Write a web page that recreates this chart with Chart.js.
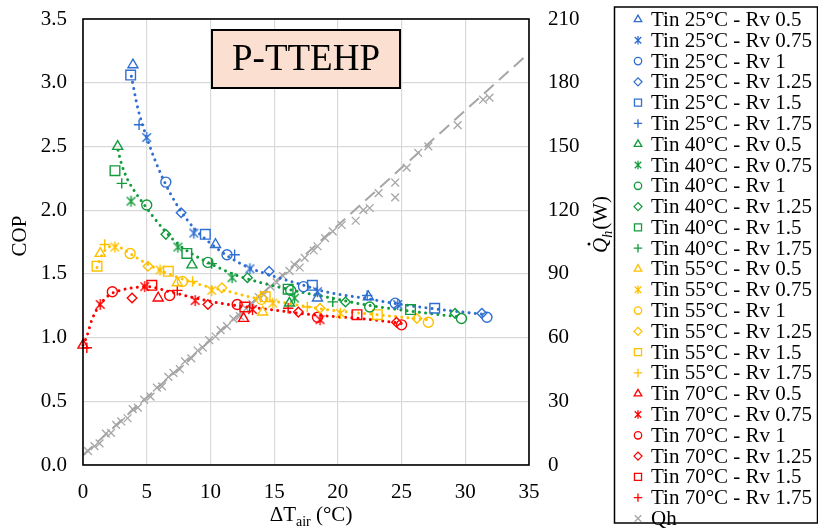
<!DOCTYPE html>
<html>
<head>
<meta charset="utf-8">
<script src="https://cdn.jsdelivr.net/npm/chart.js@4.4.0/dist/chart.umd.min.js"></script>
<style>
html,body{margin:0;padding:0;background:#fff;}
#wrap{width:818px;height:532px;position:relative;}
canvas{display:block;}
</style>
</head>
<body>
<div id="wrap"><canvas id="c" width="818" height="532"></canvas></div>
<script>
// ---------- categories ----------
const TINS = ['Tin 25°C', 'Tin 40°C', 'Tin 55°C', 'Tin 70°C'];
const RVS = ['Rv 0.5', 'Rv 0.75', 'Rv 1', 'Rv 1.25', 'Rv 1.5', 'Rv 1.75'];
const X_TICKS = [0, 5, 10, 15, 20, 25, 30, 35];
const COP_TICKS = [0, 0.5, 1, 1.5, 2, 2.5, 3, 3.5];
const QH_TICKS = [0, 30, 60, 90, 120, 150, 180, 210];

// ---------- data [ΔTair, COP] ----------
// Tin 25°C
const t25_rv050 = [[3.92,3.14],[10.4,1.73],[18.4,1.31],[22.4,1.32]];
const t25_rv075 = [[5.0,2.57],[8.7,1.82],[13.1,1.54],[18.4,1.36],[24.7,1.26]];
const t25_rv100 = [[6.5,2.22],[11.3,1.65],[17.3,1.40],[24.5,1.27],[31.7,1.16]];
const t25_rv125 = [[7.7,1.98],[14.6,1.52],[31.3,1.19]];
const t25_rv150 = [[3.74,3.06],[9.6,1.81],[18.0,1.41],[27.6,1.23]];
const t25_rv175 = [[4.4,2.67],[11.9,1.65],[22.3,1.33]];
// Tin 40°C
const t40_rv050 = [[2.72,2.50],[8.55,1.57],[16.2,1.27]];
const t40_rv075 = [[3.77,2.07],[7.45,1.71],[11.7,1.47],[16.6,1.31]];
const t40_rv100 = [[5.0,2.04],[9.8,1.59],[16.3,1.37],[22.5,1.24],[29.7,1.15]];
const t40_rv125 = [[6.5,1.81],[12.9,1.47],[20.6,1.28],[29.2,1.19]];
const t40_rv150 = [[2.51,2.31],[8.15,1.66],[16.1,1.38],[25.7,1.22]];
const t40_rv175 = [[3.04,2.21],[10.1,1.58],[19.6,1.28]];
// Tin 55°C
const t55_rv050 = [[1.35,1.66],[7.4,1.43],[14.1,1.20]];
const t55_rv075 = [[2.5,1.71],[6.05,1.53],[10.1,1.37],[14.9,1.27],[20.2,1.19]];
const t55_rv100 = [[3.7,1.66],[7.8,1.44],[14.0,1.30],[27.1,1.12]];
const t55_rv125 = [[5.1,1.56],[10.9,1.39],[18.6,1.23],[26.2,1.15]];
const t55_rv150 = [[1.1,1.56],[6.7,1.52],[14.3,1.32],[23.1,1.18]];
const t55_rv175 = [[1.7,1.73],[8.6,1.44],[17.6,1.24]];
// Tin 70°C
const t70_rv050 = [[0.0,0.94],[5.9,1.31],[12.6,1.15]];
const t70_rv075 = [[1.35,1.26],[4.85,1.40],[8.8,1.29],[13.3,1.22],[18.6,1.14]];
const t70_rv100 = [[2.3,1.36],[6.8,1.33],[12.1,1.26],[18.4,1.16],[25.0,1.10]];
const t70_rv125 = [[3.85,1.31],[9.8,1.26],[16.9,1.20],[24.6,1.12]];
const t70_rv150 = [[5.4,1.41],[12.7,1.24],[21.5,1.18]];
const t70_rv175 = [[0.3,0.92],[7.4,1.37],[16.1,1.23]];

// trend curves
const trend25 = [[3.8,3.05],[4.3,2.8],[5.0,2.57],[5.7,2.38],[6.5,2.2],[7.5,2.02],[8.7,1.86],[10,1.74],[11.5,1.63],[13,1.55],[15,1.48],[17,1.42],[19,1.36],[22,1.31],[25,1.26],[28,1.22],[31.7,1.18]];
const trend40 = [[2.75,2.47],[3.0,2.37],[3.5,2.24],[4.1,2.14],[4.6,2.07],[5.5,1.95],[6.4,1.84],[7.5,1.73],[8.5,1.66],[10,1.58],[12,1.49],[14,1.43],[16.5,1.37],[19,1.32],[22,1.26],[25.5,1.21],[29.7,1.16]];
const trend55 = [[1.1,1.55],[1.5,1.65],[2.0,1.71],[2.6,1.72],[3.2,1.69],[4.0,1.64],[5.0,1.58],[6.0,1.53],[7.5,1.47],[9,1.42],[11.5,1.36],[13.5,1.31],[16,1.27],[19,1.22],[22,1.19],[25,1.16],[27.1,1.14]];
const trend70 = [[0,0.94],[0.3,1.01],[0.7,1.14],[1.2,1.24],[2.0,1.33],[2.9,1.37],[3.9,1.39],[5.0,1.40],[6.8,1.36],[8.4,1.32],[10.2,1.28],[12.1,1.25],[14.7,1.22],[17,1.19],[19.1,1.17],[21.7,1.15],[24.3,1.12],[25,1.11]];

// heating capacity Qh [ΔTair, W]
const qh_x = [0.4,0.9,1.3,1.8,2.2,2.6,3.0,3.5,3.9,4.3,4.8,5.3,5.8,6.2,6.7,7.1,7.6,8.0,8.5,9.0,9.4,9.9,10.4,10.8,11.3,11.8,12.3,12.8,13.3,13.8,14.2,14.7,15.2,15.7,16.2,16.6,17.0,17.4,18.1,18.4,19.0,19.6,20.3,21.4,22.0,22.5,23.2,24.5,24.5,25.4,26.3,27.1,29.4,31.4,31.9];
const qh_y = [6.5,8.9,10.2,14.8,15.1,18.9,20.5,22.0,26.3,27.0,30.8,32.2,36.4,37.0,41.5,43.4,45.1,48.8,50.2,53.9,55.3,58.8,60.5,63.5,65.4,68.8,70.1,73.6,75.9,79.0,80.2,84.1,86.0,89.0,91.4,94.3,93.0,97.5,101,103,106.8,110,113,115,120,121,128,133,126,140,147,150,160,172,173];
const qh_trend = [[0,4.7],[35,194]];

// ---------- styles ----------
const COLORS = ['#2F6FD1', '#139B3D', '#FFC000', '#FF0000'];
const GRAY = '#A6A6A6';
const STYLES = ['triangle', 'star', 'circle', 'rectRot', 'rect', 'cross'];
const RADII = { triangle: 5.8, star: 5.5, circle: 5, rectRot: 4.8, rect: 6.8, cross: 5.2 };
const FONT = "'Liberation Serif', 'Times New Roman', serif";

function makeStar(color, r, lw) {
  const s = Math.ceil(2 * r + lw + 2);
  const c = document.createElement('canvas');
  c.width = s; c.height = s;
  const g = c.getContext('2d');
  g.strokeStyle = color; g.lineWidth = lw;
  const m = s / 2, d = r * 0.78;
  g.beginPath();
  g.moveTo(m - d, m - d); g.lineTo(m + d, m + d);
  g.moveTo(m + d, m - d); g.lineTo(m - d, m + d);
  g.moveTo(m, m - r); g.lineTo(m, m + r);
  g.stroke();
  return c;
}

const SERIES = [
  [t25_rv050, t25_rv075, t25_rv100, t25_rv125, t25_rv150, t25_rv175],
  [t40_rv050, t40_rv075, t40_rv100, t40_rv125, t40_rv150, t40_rv175],
  [t55_rv050, t55_rv075, t55_rv100, t55_rv125, t55_rv150, t55_rv175],
  [t70_rv050, t70_rv075, t70_rv100, t70_rv125, t70_rv150, t70_rv175]
];
const TRENDS = [trend25, trend40, trend55, trend70];
const toXY = arr => arr.map(p => ({ x: p[0], y: p[1] }));

const datasets = [];
const legendItems = [];
SERIES.forEach((group, i) => {
  group.forEach((pts, j) => {
    const st = STYLES[j];
    const ps = st === 'star' ? makeStar(COLORS[i], RADII.star, 1.4) : st;
    const label = TINS[i] + ' - ' + RVS[j];
    datasets.push({
      label, data: toXY(pts), yAxisID: 'y', showLine: false, clip: false,
      pointStyle: ps, pointRadius: RADII[st], pointHoverRadius: RADII[st],
      pointBorderWidth: 1.4, borderColor: COLORS[i], backgroundColor: 'rgba(0,0,0,0)'
    });
    legendItems.push({ label, style: st, color: COLORS[i] });
  });
});
TRENDS.forEach((t, i) => {
  datasets.push({
    data: toXY(t), yAxisID: 'y', showLine: true, pointRadius: 0, clip: false,
    borderColor: COLORS[i], borderWidth: 3, borderDash: [0.01, 6.2], borderCapStyle: 'round',
    cubicInterpolationMode: 'monotone', fill: false
  });
});
datasets.push({
  label: 'Qh', data: qh_x.map((x, k) => ({ x, y: qh_y[k] })), yAxisID: 'y2', showLine: false, clip: false,
  pointStyle: 'crossRot', pointRadius: 5.5, pointBorderWidth: 1.3, borderColor: GRAY, backgroundColor: GRAY
});
legendItems.push({ label: 'Qh', style: 'crossRot', color: GRAY });
datasets.push({
  data: toXY(qh_trend), yAxisID: 'y2', showLine: true, pointRadius: 0,
  borderColor: GRAY, borderWidth: 2, borderDash: [13, 7], fill: false
});

function drawMarker(ctx, style, x, y, r, color, lw) {
  ctx.save();
  ctx.strokeStyle = color; ctx.lineWidth = lw;
  ctx.beginPath();
  if (style === 'triangle') {
    for (let k = 0; k < 3; k++) {
      const a = k * 2 * Math.PI / 3;
      const px = x + Math.sin(a) * r, py = y - Math.cos(a) * r;
      k === 0 ? ctx.moveTo(px, py) : ctx.lineTo(px, py);
    }
    ctx.closePath();
  } else if (style === 'circle') {
    ctx.arc(x, y, r, 0, Math.PI * 2);
  } else if (style === 'rect') {
    const s = r * Math.SQRT1_2;
    ctx.rect(x - s, y - s, 2 * s, 2 * s);
  } else if (style === 'rectRot') {
    ctx.moveTo(x - r, y); ctx.lineTo(x, y - r); ctx.lineTo(x + r, y); ctx.lineTo(x, y + r); ctx.closePath();
  } else if (style === 'cross') {
    ctx.moveTo(x - r, y); ctx.lineTo(x + r, y); ctx.moveTo(x, y - r); ctx.lineTo(x, y + r);
  } else if (style === 'crossRot') {
    const d = r * Math.SQRT1_2;
    ctx.moveTo(x - d, y - d); ctx.lineTo(x + d, y + d); ctx.moveTo(x + d, y - d); ctx.lineTo(x - d, y + d);
  } else if (style === 'star') {
    const d = r * 0.78;
    ctx.moveTo(x - d, y - d); ctx.lineTo(x + d, y + d);
    ctx.moveTo(x + d, y - d); ctx.lineTo(x - d, y + d);
    ctx.moveTo(x, y - r); ctx.lineTo(x, y + r);
  }
  ctx.stroke();
  ctx.restore();
}

const LEGEND_R = { triangle: 4.4, star: 4.2, circle: 3.7, rectRot: 4.0, rect: 5.0, cross: 4.2, crossRot: 4.6 };

const decor = {
  id: 'decor',
  afterDraw(chart) {
    const ctx = chart.ctx, a = chart.chartArea;
    ctx.save();
    // plot frame
    ctx.strokeStyle = '#000'; ctx.lineWidth = 1.6;
    ctx.strokeRect(a.left, a.top, a.right - a.left, a.bottom - a.top);

    // title box
    ctx.fillStyle = '#FBDFD0';
    ctx.fillRect(212, 30, 188, 58);
    ctx.lineWidth = 2; ctx.strokeStyle = '#000';
    ctx.strokeRect(212, 30, 188, 58);
    ctx.fillStyle = '#000';
    ctx.font = '37px ' + FONT;
    ctx.textAlign = 'center'; ctx.textBaseline = 'middle';
    ctx.fillText('P-TTEHP', 306, 60);

    // left axis title
    ctx.save();
    ctx.translate(20, 236); ctx.rotate(-Math.PI / 2);
    ctx.font = '21px ' + FONT; ctx.textAlign = 'center'; ctx.textBaseline = 'middle';
    ctx.fillText('COP', 0, 0);
    ctx.restore();

    // x axis title: ΔT_air (°C)
    ctx.textAlign = 'left'; ctx.textBaseline = 'alphabetic';
    const big = '21px ' + FONT, small = '14px ' + FONT;
    ctx.font = big; const w1 = ctx.measureText('ΔT').width;
    ctx.font = small; const w2 = ctx.measureText('air').width;
    ctx.font = big; const w3 = ctx.measureText(' (°C)').width;
    let sx = 311 - (w1 + w2 + w3) / 2, base = 521;
    ctx.font = big; ctx.fillText('ΔT', sx, base); sx += w1;
    ctx.font = small; ctx.fillText('air', sx, base + 5); sx += w2;
    ctx.font = big; ctx.fillText(' (°C)', sx, base);

    // right axis title: Q̇h(W)
    ctx.save();
    ctx.translate(607, 225); ctx.rotate(-Math.PI / 2);
    const fi = 'italic 21px ' + FONT, fs = 'italic 14px ' + FONT;
    ctx.font = fi; const q1 = ctx.measureText('Q').width;
    ctx.font = fs; const q2 = ctx.measureText('h').width;
    ctx.font = big; const q3 = ctx.measureText('(W)').width;
    let lx = -(q1 + q2 + q3) / 2;
    ctx.font = fi; ctx.fillText('Q', lx, 0);
    ctx.beginPath(); ctx.arc(lx + q1 * 0.6, -18, 1.5, 0, Math.PI * 2); ctx.fill();
    lx += q1;
    ctx.font = fs; ctx.fillText('h', lx, 5); lx += q2 + 1;
    ctx.font = big; ctx.fillText('(W)', lx, 0);
    ctx.restore();

    // legend
    ctx.fillStyle = '#fff';
    ctx.fillRect(614, 7, 203, 516);
    ctx.strokeStyle = '#000'; ctx.lineWidth = 1.5;
    ctx.strokeRect(614.5, 7, 203, 516);
    ctx.font = '21px ' + FONT; ctx.textAlign = 'left'; ctx.textBaseline = 'middle';
    legendItems.forEach((it, k) => {
      const y = 19.5 + k * 20.79;
      drawMarker(ctx, it.style, 638, y, LEGEND_R[it.style], it.color, 1.3);
      ctx.fillStyle = '#000';
      ctx.fillText(it.label, 651, y + 1);
    });
    ctx.restore();
  }
};

Chart.defaults.font.family = FONT;
Chart.defaults.font.size = 21;
Chart.defaults.color = '#000';

const fixVertical = w => s => { s.width = w; s.paddingTop = 10; s.paddingBottom = 10; };

new Chart(document.getElementById('c'), {
  type: 'scatter',
  data: { datasets },
  options: {
    responsive: false, animation: false, devicePixelRatio: 1,
    layout: { padding: { left: 0, right: 214, top: 19, bottom: 0 } },
    plugins: { legend: { display: false }, tooltip: { enabled: false } },
    scales: {
      x: {
        type: 'linear', min: 0, max: 35,
        afterBuildTicks: s => { s.ticks = X_TICKS.map(v => ({ value: v })); },
        ticks: { padding: 15, font: { size: 21 }, color: '#000', maxRotation: 0 },
        grid: { color: '#D9D9D9', lineWidth: 1.2, drawTicks: false },
        border: { display: false },
        afterFit: s => { s.height = 67; s.paddingLeft = 10; s.paddingRight = 10; }
      },
      y: {
        position: 'left', min: 0, max: 3.5,
        afterBuildTicks: s => { s.ticks = COP_TICKS.map(v => ({ value: v })); },
        ticks: { padding: 16, font: { size: 21 }, color: '#000', callback: v => Number(v).toFixed(1) },
        grid: { color: '#D9D9D9', lineWidth: 1.2, drawTicks: false },
        border: { display: false },
        afterFit: fixVertical(83)
      },
      y2: {
        position: 'right', min: 0, max: 210,
        afterBuildTicks: s => { s.ticks = QH_TICKS.map(v => ({ value: v })); },
        ticks: { padding: 19, font: { size: 21 }, color: '#000', callback: v => String(v) },
        grid: { drawOnChartArea: false, drawTicks: false },
        border: { display: false },
        afterFit: fixVertical(75)
      }
    }
  },
  plugins: [decor]
});
</script>
</body>
</html>
